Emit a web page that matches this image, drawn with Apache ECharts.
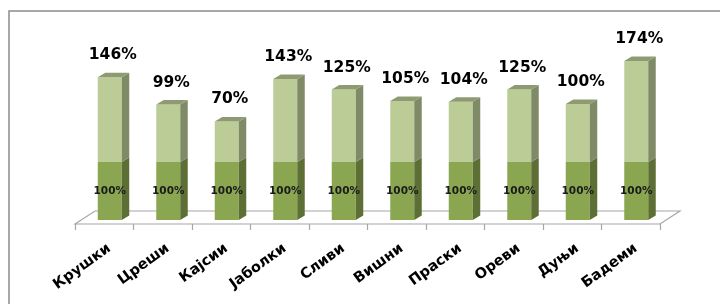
<!DOCTYPE html>
<html>
<head>
<meta charset="utf-8">
<script src="https://cdn.jsdelivr.net/npm/echarts@6/dist/echarts.min.js"></script>
<style>
  html, body { margin: 0; padding: 0; background: #fff; }
  #chart { width: 720px; height: 304px; }
</style>
</head>
<body>
<div id="chart"></div>
<script>
var categories = ['Крушки', 'Цреши', 'Кајсии', 'Јаболки', 'Сливи', 'Вишни', 'Праски', 'Ореви', 'Дуњи', 'Бадеми']
var baseValues = [100, 100, 100, 100, 100, 100, 100, 100, 100, 100]
var growthValues = [146, 99, 70, 143, 125, 105, 104, 125, 100, 174]

var FONT = '"DejaVu Sans", Verdana, sans-serif'
// 3D look: depth of the bars and of the floor, in pixels
var BAR_DX = 7.5, BAR_DY = -4.5
var FLOOR_DX = 20, FLOOR_DY = -13
var SHIFT_X = 5.5, SHIFT_Y = -4

var chart = echarts.init(document.getElementById('chart'))

function renderFloor (params, api) {
  var band = api.size([1, 0])[0]
  var a = api.coord([0, 0])
  var b = api.coord([categories.length - 1, 0])
  var x0 = a[0] - band / 2
  var x1 = b[0] + band / 2
  var y = a[1]
  return {
    type: 'polygon',
    shape: { points: [[x0, y], [x0 + FLOOR_DX, y + FLOOR_DY], [x1 + FLOOR_DX, y + FLOOR_DY], [x1, y]] },
    style: { fill: '#fff', stroke: '#a6a6a6', lineWidth: 1.2 }
  }
}

function side (x, yBottom, yTop, fill) {
  return {
    type: 'polygon',
    shape: { points: [[x, yBottom], [x + BAR_DX, yBottom + BAR_DY], [x + BAR_DX, yTop + BAR_DY], [x, yTop]] },
    style: { fill: fill }
  }
}

function renderBar (params, api) {
  var i = api.value(0)
  var base = api.value(1)
  var growth = api.value(2)
  var p0 = api.coord([i, 0])
  var p1 = api.coord([i, base])
  var p2 = api.coord([i, base + growth])
  var w = 24
  var cx = p0[0] + SHIFT_X
  var left = cx - w / 2
  var right = cx + w / 2
  var y0 = p0[1] + SHIFT_Y
  var y1 = p1[1] + SHIFT_Y
  var y2 = p2[1] + SHIFT_Y
  return {
    type: 'group',
    children: [
      { type: 'rect', shape: { x: left, y: y1, width: w, height: y0 - y1 }, style: { fill: '#8ba650' } },
      side(right, y0, y1, '#5e6f36'),
      { type: 'rect', shape: { x: left, y: y2, width: w, height: y1 - y2 }, style: { fill: '#bbcc97' } },
      side(right, y1, y2, '#7f8a66'),
      {
        type: 'polygon',
        shape: { points: [[left, y2], [left + BAR_DX, y2 + BAR_DY], [right + BAR_DX, y2 + BAR_DY], [right, y2]] },
        style: { fill: '#8e9b72' }
      },
      {
        type: 'text',
        style: {
          x: cx, y: (y0 + y1) / 2, text: base + '%',
          fill: '#1a1a1a', font: 'bold 10.5px ' + FONT, align: 'center', verticalAlign: 'middle'
        }
      },
      {
        type: 'text',
        style: {
          x: cx + 3, y: y2 - 22, text: growth + '%',
          fill: '#000', font: 'bold 15.5px ' + FONT, align: 'center', verticalAlign: 'middle'
        }
      },
      {
        type: 'text',
        x: p0[0] + 5, y: p0[1] + 23, rotation: 36 * Math.PI / 180,
        style: {
          x: 0, y: 0, text: categories[i],
          fill: '#000', font: 'bold 14.5px ' + FONT, align: 'right', verticalAlign: 'middle'
        }
      }
    ]
  }
}

var barData = categories.map(function (c, i) { return [i, baseValues[i], growthValues[i]] })

chart.setOption({
  animation: false,
  graphic: [{
    type: 'polyline',
    shape: { points: [[9, 320], [9, 11], [730, 11]] },
    style: { fill: 'none', stroke: '#8c8c8c', lineWidth: 1.5 },
    z: 0
  }],
  grid: { left: 75, right: 60, top: 50, bottom: 80 },
  xAxis: {
    type: 'category',
    data: categories,
    axisLine: { show: false },
    axisTick: { show: true, length: 6, lineStyle: { color: '#a6a6a6', width: 1.2 } },
    axisLabel: { show: false }
  },
  yAxis: {
    type: 'value',
    min: 0,
    max: 300,
    show: false,
    splitLine: { show: false }
  },
  series: [{
    type: 'custom',
    renderItem: renderFloor,
    data: [[0]],
    silent: true
  }, {
    type: 'custom',
    renderItem: renderBar,
    data: barData
  }]
})
</script>
</body>
</html>
